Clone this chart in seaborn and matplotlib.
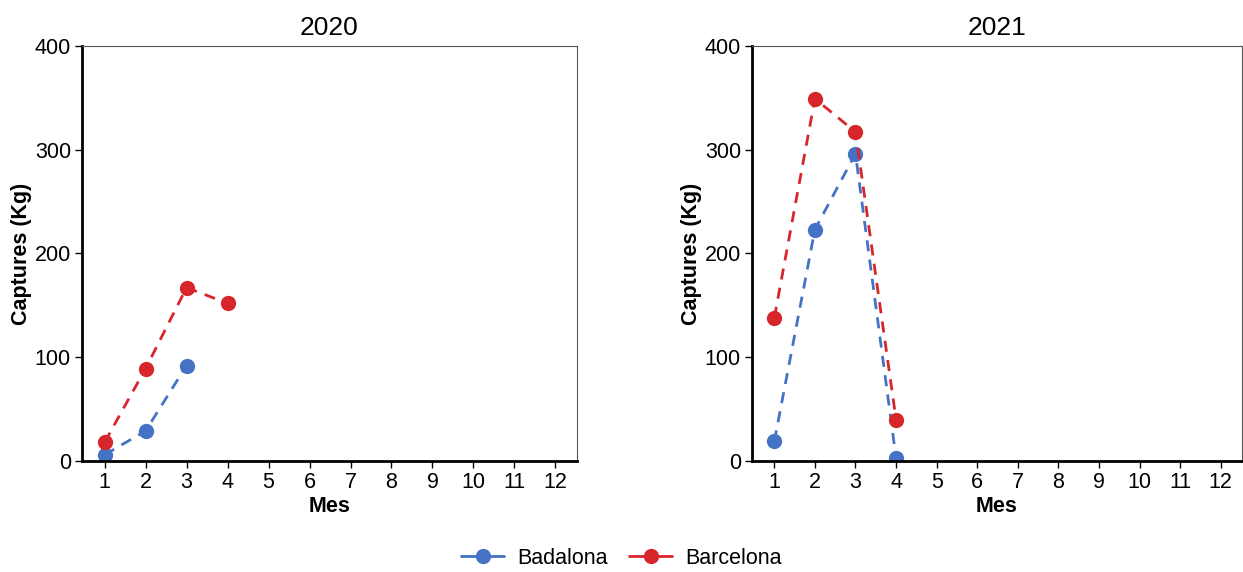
import pandas as pd
import matplotlib.pyplot as plt
import seaborn as sns
from matplotlib.lines import Line2D

#  Monthly catches (Kg) per port.

years = [2020, 2021]
ports = ["Badalona", "Barcelona"]
mesos_2020 = {"Badalona": [1, 2, 3], "Barcelona": [1, 2, 3, 4]}
badalona_2020 = [6, 29, 92]
barcelona_2020 = [18, 89, 167, 152]
mesos_2021 = {"Badalona": [1, 2, 3, 4], "Barcelona": [1, 2, 3, 4]}
badalona_2021 = [19, 223, 296, 3]
barcelona_2021 = [138, 349, 317, 40]
month_ticks = list(range(1, 13))

colors = {"Badalona": "#4472C4", "Barcelona": "#D7262B"}

rows = []
for any_, mesos, vals in [(2020, mesos_2020, {"Badalona": badalona_2020, "Barcelona": barcelona_2020}),
                          (2021, mesos_2021, {"Badalona": badalona_2021, "Barcelona": barcelona_2021})]:
    for p in ports:
        for m, v in zip(mesos[p], vals[p]):
            rows.append({"Any": any_, "Port": p, "Mes": m, "Captures": v})
df = pd.DataFrame(rows)

sns.set_style("white")
plt.rcParams["font.family"] = ["Liberation Sans", "DejaVu Sans"]
plt.rcParams["text.color"] = "black"
plt.rcParams["axes.labelcolor"] = "black"
plt.rcParams["xtick.color"] = "black"
plt.rcParams["ytick.color"] = "black"

fig = plt.figure(figsize=(12.43, 5.72), dpi=100)
ax1 = fig.add_axes([0.066, 0.194, 0.398, 0.726])
ax2 = fig.add_axes([0.605, 0.194, 0.394, 0.726])

for ax, yr in zip([ax1, ax2], years):
    sns.lineplot(data=df[df["Any"] == yr], x="Mes", y="Captures", hue="Port",
                 hue_order=ports, palette=colors, ax=ax, dashes=False,
                 marker="o", markersize=11, markeredgewidth=0, linewidth=2,
                 legend=False)
    for ln in ax.get_lines():
        ln.set_dashes((4, 3))
    ax.set_xlim(0.45, 12.52)
    ax.set_ylim(0, 400)
    ax.set_xticks(month_ticks)
    ax.set_yticks([0, 100, 200, 300, 400])
    ax.tick_params(axis="both", labelsize=15.5, length=5, width=1, color="black",
                   labelcolor="black", direction="out", bottom=True, left=True, pad=3)
    ax.set_title(str(yr), fontsize=19, pad=8, color="black")
    ax.set_xlabel("Mes", fontsize=15.5, fontweight="bold", labelpad=2, color="black")
    ax.set_ylabel("Captures (Kg)", fontsize=15.5, fontweight="bold", labelpad=2,
                  color="black")
    for s in ["left", "bottom"]:
        ax.spines[s].set_color("black")
        ax.spines[s].set_linewidth(2)
    for s in ["top", "right"]:
        ax.spines[s].set_color("#555555")
        ax.spines[s].set_linewidth(0.8)

handles = [Line2D([0], [0], color=colors[p], linewidth=2, marker="o",
                  markersize=11, markeredgewidth=0) for p in ports]
fig.legend(handles, ports, loc="lower center", ncol=2, frameon=False,
           fontsize=15.5, bbox_to_anchor=(0.5, -0.028), handlelength=2,
           columnspacing=1.0, handletextpad=0.6, labelcolor="black")

fig.savefig("out.png", dpi=100)
